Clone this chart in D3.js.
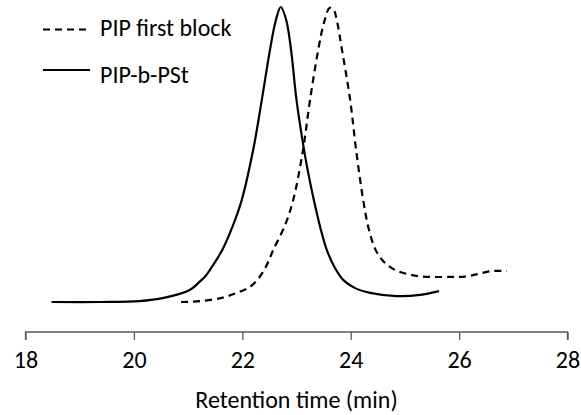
<!DOCTYPE html>
<html>
<head>
<meta charset="utf-8">
<script src="https://cdn.jsdelivr.net/npm/d3@7"></script>
<style>
  html, body { margin: 0; padding: 0; background: #fff; }
  svg { display: block; }
  text { font-family: Carlito, Lato, "Open Sans", sans-serif; fill: #000; }
</style>
</head>
<body>
<svg id="chart" width="581" height="415"></svg>
<script>
// GPC traces, normalised detector signal vs. retention time (min)
const seriesNames = ["PIP first block", "PIP-b-PSt"];

const timeBlock = [20.87, 21.22, 21.62, 21.90, 22.14, 22.30, 22.45, 22.57, 22.79, 22.94,
  23.12, 23.25, 23.40, 23.51, 23.61, 23.68, 23.75, 23.84, 23.99, 24.10, 24.23, 24.33,
  24.45, 24.57, 24.70, 24.86, 25.09, 25.33, 25.83, 26.11, 26.35, 26.60, 26.88];
const signalBlock = [0.000, 0.003, 0.014, 0.031, 0.051, 0.080, 0.125, 0.176, 0.261, 0.346,
  0.515, 0.685, 0.854, 0.949, 0.997, 0.993, 0.949, 0.854, 0.685, 0.515, 0.346, 0.250,
  0.180, 0.145, 0.122, 0.105, 0.093, 0.086, 0.085, 0.086, 0.095, 0.105, 0.105];

const timeCopolymer = [18.48, 19.40, 20.10, 20.55, 21.03, 21.21, 21.33, 21.45, 21.63, 21.81,
  21.99, 22.20, 22.36, 22.51, 22.62, 22.71, 22.81, 22.90, 23.00, 23.14, 23.23, 23.32,
  23.44, 23.56, 23.71, 23.86, 24.08, 24.36, 24.85, 25.28, 25.63];
const signalCopolymer = [0.000, 0.000, 0.003, 0.014, 0.041, 0.068, 0.090, 0.122, 0.176, 0.251,
  0.346, 0.515, 0.685, 0.854, 0.956, 1.000, 0.956, 0.854, 0.685, 0.515, 0.425, 0.346,
  0.252, 0.176, 0.115, 0.075, 0.047, 0.031, 0.020, 0.024, 0.037];

const xTicks = [18, 20, 22, 24, 26, 28];
const xTitle = "Retention time (min)";

const svg = d3.select("#chart");

const x = d3.scaleLinear().domain([18, 28]).range([25.5, 567.5]);
const y = d3.scaleLinear().domain([0, 1]).range([302, 7]);

// x axis with outward ticks
const axisY = 332;
const axis = svg.append("g")
  .attr("transform", `translate(0,${axisY})`)
  .call(d3.axisBottom(x).tickValues(xTicks).tickSize(8).tickPadding(6).tickFormat(d3.format("d")));
axis.select(".domain").attr("stroke", "#595959").attr("stroke-width", 1.3)
  .attr("d", `M${x(18)},8V0H${x(28)}V8`);
axis.selectAll(".tick line").attr("stroke", "#595959").attr("stroke-width", 1.3);
axis.selectAll(".tick text").style("font-size", "24px").attr("fill", "#000")
  .attr("dy", null).attr("y", 36);

svg.append("text")
  .attr("x", (x(18) + x(28)) / 2)
  .attr("y", 408)
  .attr("text-anchor", "middle")
  .style("font-size", "24px")
  .text(xTitle);

const line = d3.line()
  .x(d => x(d[0]))
  .y(d => y(d[1]))
  .curve(d3.curveCatmullRom.alpha(0.5));

const blockData = d3.zip(timeBlock, signalBlock);
const copolymerData = d3.zip(timeCopolymer, signalCopolymer);

svg.append("path")
  .datum(blockData)
  .attr("fill", "none")
  .attr("stroke", "#000")
  .attr("stroke-width", 2.2)
  .attr("stroke-dasharray", "7,5")
  .attr("d", line);

svg.append("path")
  .datum(copolymerData)
  .attr("fill", "none")
  .attr("stroke", "#000")
  .attr("stroke-width", 2.2)
  .attr("d", line);

// legend
const legend = svg.append("g");
const legendRows = [
  { name: seriesNames[0], dash: "7,5", ly: 29.5, ty: 36 },
  { name: seriesNames[1], dash: null, ly: 70, ty: 83 }
];
legendRows.forEach(r => {
  legend.append("line")
    .attr("x1", 43).attr("x2", 90)
    .attr("y1", r.ly).attr("y2", r.ly)
    .attr("stroke", "#000").attr("stroke-width", 2)
    .attr("stroke-dasharray", r.dash);
  legend.append("text")
    .attr("x", 100).attr("y", r.ty)
    .style("font-size", "24px")
    .text(r.name);
});
</script>
</body>
</html>
